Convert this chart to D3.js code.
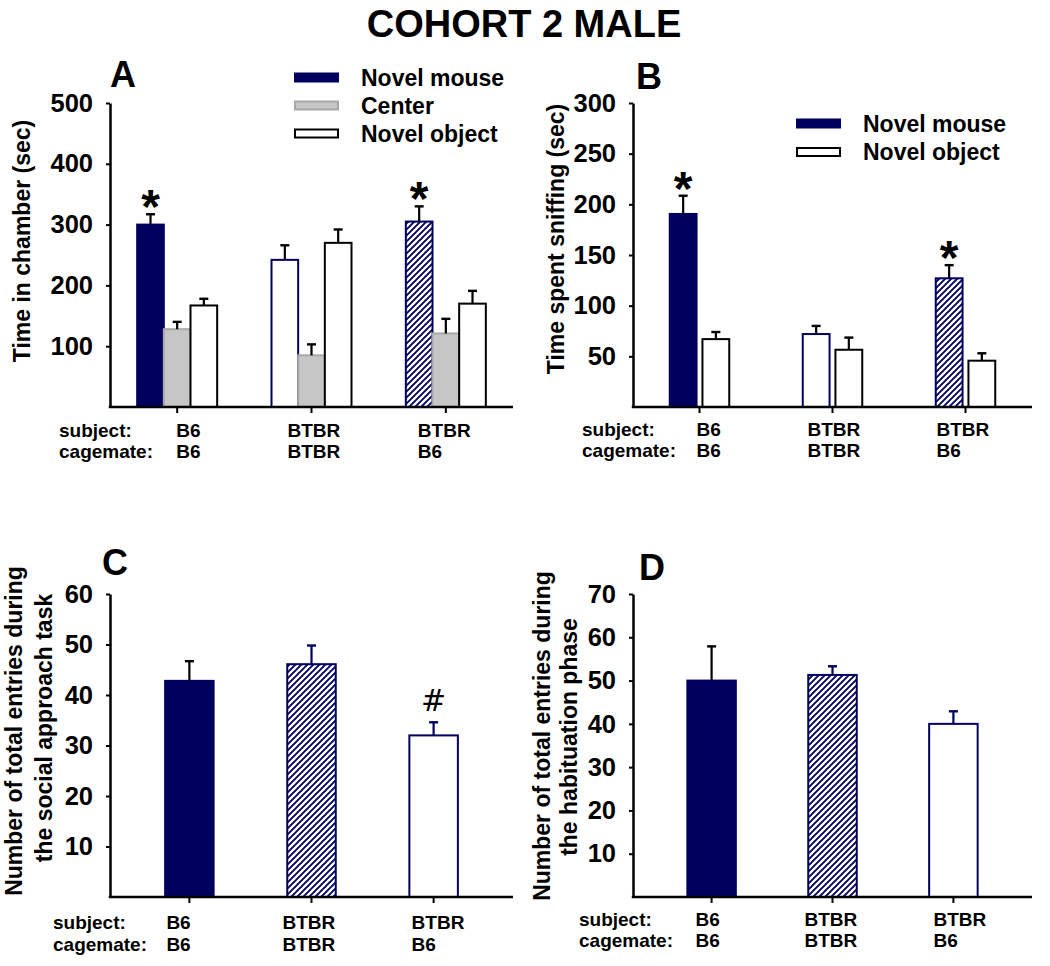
<!DOCTYPE html>
<html>
<head>
<meta charset="utf-8">
<script src="https://cdn.jsdelivr.net/npm/d3@7"></script>
<style>
  html, body { margin: 0; padding: 0; background: #ffffff; }
  svg { display: block; }
  text { font-family: "Liberation Sans", Arial, Helvetica, sans-serif; font-weight: bold; fill: #000; }
</style>
</head>
<body>
<svg id="chart" width="1050" height="966"></svg>
<script>
// ---------------- DATA ----------------
const groupSubject  = ["B6", "BTBR", "BTBR"];
const groupCagemate = ["B6", "BTBR", "B6"];
const groupKeys = ["B6/B6", "BTBR/BTBR", "BTBR/B6"];

// Panel A: time in chamber (sec)
const chamberSeries = ["Novel mouse", "Center", "Novel object"];
const chamberMouse      = [300, 242, 305];
const chamberMouseSem   = [17, 24, 25];
const chamberCenter     = [128, 85, 121];
const chamberCenterSem  = [12, 18, 24];
const chamberObject     = [167, 270, 170];
const chamberObjectSem  = [11, 22, 21];
const chamberTicks = [100, 200, 300, 400, 500];
const chamberSig = [true, false, true];

// Panel B: time spent sniffing (sec)
const sniffSeries = ["Novel mouse", "Novel object"];
const sniffMouse     = [190.5, 72, 127];
const sniffMouseSem  = [18, 8, 13];
const sniffObject    = [67, 56.5, 45.7];
const sniffObjectSem = [7, 12, 7.3];
const sniffTicks = [50, 100, 150, 200, 250, 300];
const sniffSig = [true, false, true];

// Panel C: total entries during social approach task
const socialEntries    = [42.8, 46.1, 32];
const socialEntriesSem = [3.9, 3.7, 2.6];
const socialTicks = [10, 20, 30, 40, 50, 60];
const socialMark = ["", "", "#"];

// Panel D: total entries during habituation phase
const habEntries    = [50, 51.3, 40];
const habEntriesSem = [7.9, 2.0, 2.9];
const habTicks = [10, 20, 30, 40, 50, 60, 70];

// ---------------- STYLE ----------------
const NAVY = "#00005f";
const GRAY = "#c6c6c6";
const svg = d3.select("#chart");

const defs = svg.append("defs");
const pat = defs.append("pattern").attr("id", "hatch")
  .attr("patternUnits", "userSpaceOnUse").attr("width", 6).attr("height", 6);
pat.append("rect").attr("width", 6).attr("height", 6).attr("fill", "#fff");
pat.append("path").attr("d", "M-1,7 L7,-1 M-4,4 L4,-4 M2,10 L10,2")
  .attr("stroke", NAVY).attr("stroke-width", 1.9);

const styles = {
  solid:   { fill: NAVY, stroke: NAVY, err: "#000" },
  navyOpen:{ fill: "#fff", stroke: NAVY, err: "#000" },
  hatch:   { fill: "url(#hatch)", stroke: NAVY, err: "#000" },
  center:  { fill: GRAY, stroke: "#a8a8a8", err: "#000" },
  open:    { fill: "#fff", stroke: "#000", err: "#000" },
};

// Title
svg.append("text").attr("x", 524).attr("y", 37).attr("text-anchor", "middle")
  .style("font-size", "38px").text("COHORT 2 MALE");

function yAxisFn(g, y, ticks) {
  g.call(d3.axisLeft(y).tickValues(ticks).tickSize(4).tickSizeOuter(0).tickPadding(13));
  g.select(".domain").attr("stroke-width", 2.5).attr("stroke", "#000");
  g.selectAll(".tick line").attr("stroke-width", 2).attr("stroke", "#000");
  g.selectAll(".tick text").style("font-size", "25.5px").style("font-family", "Liberation Sans, Arial, sans-serif").style("font-weight", "bold").attr("fill", "#000");
}

function drawPanel(p) {
  const g = svg.append("g");
  const y = d3.scaleLinear().domain([0, p.yMax]).range([p.y0, p.y1]);
  let x;
  if (p.point) {
    x = d3.scalePoint().domain(groupKeys).range([p.x0, p.x1]).padding(0.65);
  } else {
    const band = d3.scaleBand().domain(groupKeys).range([p.x0, p.x1]).padding(0);
    x = k => band(k) + band.bandwidth() / 2;
  }
  const inner = d3.scaleBand().domain(p.series.map(s => s.name))
    .range([-p.groupW / 2, p.groupW / 2]).paddingInner(p.innerPad);

  // bars
  p.series.forEach(s => {
    groupKeys.forEach((k, i) => {
      const st = styles[s.style[i]];
      const bx = x(k) + inner(s.name);
      const bw = inner.bandwidth();
      const v = s.values[i], e = s.sem[i];
      g.append("rect").attr("x", bx).attr("y", y(v)).attr("width", bw)
        .attr("height", y(0) - y(v)).attr("fill", st.fill)
        .attr("stroke", st.stroke).attr("stroke-width", 2);
      const cx = bx + bw / 2;
      const ec = s.errColor ? s.errColor[i] : st.err;
      g.append("line").attr("x1", cx).attr("x2", cx).attr("y1", y(v)).attr("y2", y(v + e))
        .attr("stroke", ec).attr("stroke-width", 2.2);
      g.append("line").attr("x1", cx - 4.5).attr("x2", cx + 4.5).attr("y1", y(v + e)).attr("y2", y(v + e))
        .attr("stroke", ec).attr("stroke-width", 2.4);
      if (s.marks && s.marks[i]) {
        const m = s.marks[i];
        if (m === "*") {
          g.append("text").attr("x", cx).attr("y", y(v + e) + 9).attr("text-anchor", "middle")
            .style("font-size", "48px").text("*");
        } else {
          g.append("text").attr("x", cx).attr("y", y(v + e) - 11).attr("text-anchor", "middle")
            .style("font-size", "30px").style("font-family", "DejaVu Sans, sans-serif").style("font-weight", "normal").text(m);
        }
      }
    });
  });

  // axes
  const ya = g.append("g").attr("transform", `translate(${p.x0},0)`);
  yAxisFn(ya, y, p.ticks);
  g.append("line").attr("x1", p.x0 - 1.25).attr("x2", p.x1).attr("y1", p.y0).attr("y2", p.y0)
    .attr("stroke", "#000").attr("stroke-width", 2.5);
  groupKeys.forEach(k => {
    g.append("line").attr("x1", x(k)).attr("x2", x(k)).attr("y1", p.y0).attr("y2", p.y0 + 6)
      .attr("stroke", "#000").attr("stroke-width", 2);
  });

  // category labels
  g.append("text").attr("x", p.x0 + p.rowLabelDx).attr("y", p.row1).style("font-size", "19px").text("subject:");
  g.append("text").attr("x", p.x0 + p.rowLabelDx).attr("y", p.row2).style("font-size", "19px").text("cagemate:");
  groupKeys.forEach((k, i) => {
    g.append("text").attr("x", x(k) + p.catDx[i]).attr("y", p.row1).style("font-size", "19px").text(groupSubject[i]);
    g.append("text").attr("x", x(k) + p.catDx[i]).attr("y", p.row2).style("font-size", "19px").text(groupCagemate[i]);
  });

  // panel letter
  g.append("text").attr("x", p.letterX).attr("y", p.letterY).style("font-size", "36px").text(p.letter);

  // y title
  p.yTitle.forEach(t => {
    g.append("text").attr("transform", `translate(${t.x},${t.y}) rotate(-90)`)
      .attr("text-anchor", "middle").style("font-size", "23px").text(t.text);
  });

  // legend
  if (p.legend) {
    p.legend.items.forEach((it, i) => {
      const st = styles[it.style];
      const ly = p.legend.y + i * p.legend.dy;
      g.append("rect").attr("x", p.legend.x).attr("y", ly - 4).attr("width", 43).attr("height", 8)
        .attr("fill", st.fill).attr("stroke", st.stroke).attr("stroke-width", 2);
      g.append("text").attr("x", p.legend.x + 66).attr("y", ly + 8).style("font-size", "23px").text(it.name);
    });
  }
}

// Panel A
drawPanel({
  letter: "A", letterX: 110, letterY: 87,
  x0: 110, x1: 513, y0: 407, y1: 103, yMax: 500, ticks: chamberTicks,
  groupW: 80, innerPad: 0,
  series: [
    { name: chamberSeries[0], values: chamberMouse, sem: chamberMouseSem, style: ["solid", "navyOpen", "hatch"], marks: chamberSig.map(s => s ? "*" : "") },
    { name: chamberSeries[1], values: chamberCenter, sem: chamberCenterSem, style: ["center", "center", "center"] },
    { name: chamberSeries[2], values: chamberObject, sem: chamberObjectSem, style: ["open", "open", "open"] },
  ],
  rowLabelDx: -51, row1: 437, row2: 458, catDx: [-1, -24, -28],
  yTitle: [{ x: 30, y: 241, text: "Time in chamber (sec)" }],
  legend: { x: 295, y: 77.5, dy: 28, items: [
    { name: chamberSeries[0], style: "solid" }, { name: chamberSeries[1], style: "center" }, { name: chamberSeries[2], style: "open" }] },
});

// Panel B
drawPanel({
  letter: "B", letterX: 636, letterY: 89,
  x0: 633, x1: 1032, y0: 407, y1: 103, yMax: 300, ticks: sniffTicks,
  groupW: 59.5, innerPad: 0.18,
  series: [
    { name: sniffSeries[0], values: sniffMouse, sem: sniffMouseSem, style: ["solid", "navyOpen", "hatch"], marks: sniffSig.map(s => s ? "*" : "") },
    { name: sniffSeries[1], values: sniffObject, sem: sniffObjectSem, style: ["open", "open", "open"] },
  ],
  rowLabelDx: -51, row1: 436, row2: 457, catDx: [-3, -25, -29],
  yTitle: [{ x: 564, y: 239, text: "Time spent sniffing (sec)" }],
  legend: { x: 797, y: 123.5, dy: 28.5, items: [
    { name: sniffSeries[0], style: "solid" }, { name: sniffSeries[1], style: "open" }] },
});

// Panel C
drawPanel({
  letter: "C", letterX: 102, letterY: 575,
  x0: 110, x1: 513, y0: 897, y1: 594, yMax: 60, ticks: socialTicks, point: true,
  groupW: 48.5, innerPad: 0,
  series: [
    { name: "entries", values: socialEntries, sem: socialEntriesSem, style: ["solid", "hatch", "navyOpen"], errColor: ["#000", NAVY, NAVY], marks: socialMark },
  ],
  rowLabelDx: -57, row1: 929, row2: 951, catDx: [-23, -29, -22],
  yTitle: [{ x: 22, y: 731, text: "Number of total entries during" }, { x: 52, y: 728, text: "the social approach task" }],
});

// Panel D
drawPanel({
  letter: "D", letterX: 639, letterY: 580,
  x0: 633, x1: 1032, y0: 897, y1: 594, yMax: 70, ticks: habTicks, point: true,
  groupW: 48.5, innerPad: 0,
  series: [
    { name: "entries", values: habEntries, sem: habEntriesSem, style: ["solid", "hatch", "navyOpen"], errColor: ["#000", NAVY, NAVY] },
  ],
  rowLabelDx: -54, row1: 926, row2: 947, catDx: [-16, -28, -20],
  yTitle: [{ x: 550, y: 736, text: "Number of total entries during" }, { x: 577, y: 737, text: "the habituation phase" }],
});
</script>
</body>
</html>
